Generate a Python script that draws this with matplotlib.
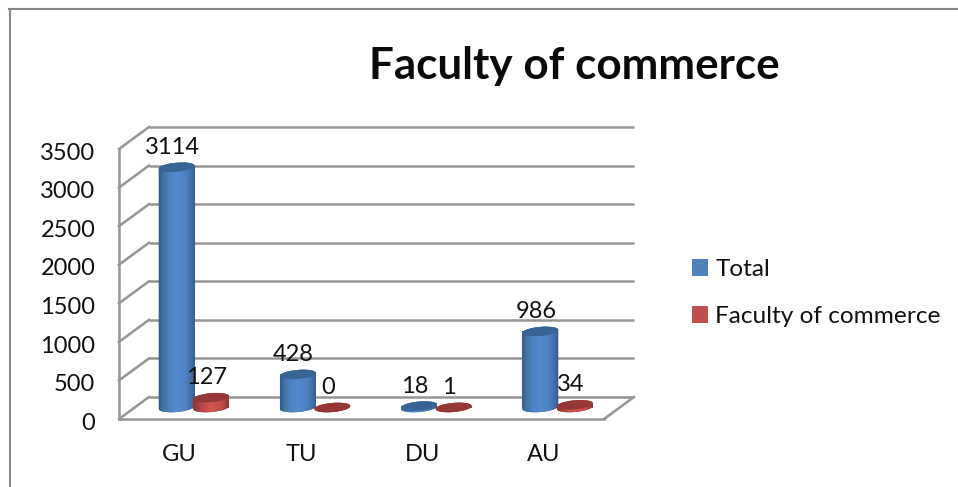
import numpy as np
import matplotlib
matplotlib.use("Agg")
import matplotlib.pyplot as plt
from matplotlib.lines import Line2D
from matplotlib.patches import Polygon, Patch
from matplotlib.colors import LinearSegmentedColormap
from matplotlib.transforms import ScaledTranslation

categories = ["GU", "TU", "DU", "AU"]
total = [3114, 428, 18, 986]
commerce = [127, 0, 1, 34]
series_names = ["Total", "Faculty of commerce"]
y_ticks = [0, 500, 1000, 1500, 2000, 2500, 3000, 3500]
title = "Faculty of commerce"

W, H = 958, 487
plt.rcParams['font.family'] = ['Lato', 'DejaVu Sans']
fig = plt.figure(figsize=(W / 100, H / 100), dpi=100)
L, R, T, B = 119, 604, 149, 419
ax = fig.add_axes([L / W, 1 - B / H, (R - L) / W, (B - T) / H])
ax.set_xlim(0, 4)
ax.set_ylim(0, 3500)
for s in ax.spines.values():
    s.set_visible(False)
ax.patch.set_visible(False)

px_x = 4 / (R - L)
px_y = 3500 / (B - T)
DX, DY = 30 * px_x, 22 * px_y
GRID = "#959595"
lw = 1.8
for v in y_ticks:
    ax.plot([DX, 4 + DX], [v + DY, v + DY], color=GRID, lw=lw, clip_on=False, zorder=1, solid_capstyle='butt')
    ax.plot([0, DX], [v, v + DY], color=GRID, lw=lw, clip_on=False, zorder=1)
ax.plot([0, 0], [0, 3500], color=GRID, lw=lw, clip_on=False, zorder=1)
ax.plot([0, 4], [0, 0], color=GRID, lw=lw, clip_on=False, zorder=1)
ax.plot([4, 4 + DX], [0, DY], color=GRID, lw=lw, clip_on=False, zorder=1)

ax.set_xticks(np.arange(4) + 0.5, categories)
ax.set_yticks(y_ticks)
ax.tick_params(axis='both', length=0, labelsize=17, labelcolor="#111111")
ax.tick_params(axis='x', pad=17.7)
ax.tick_params(axis='y', pad=17)
shift = ScaledTranslation(0, -2.2 / 100, fig.dpi_scale_trans)
for lab in ax.get_yticklabels():
    lab.set_transform(lab.get_transform() + shift)

BW = 36 * px_x
EH = 9
BASE = 11.5 * px_y
OFF = {0: -3 * px_x, 1: 31.5 * px_x}
ANG = np.deg2rad(5)


def ellipse(xc, yc, w=36, h=EH):
    t = np.linspace(0, 2 * np.pi, 81)
    ex, ey = w / 2 * np.cos(t), h / 2 * np.sin(t)
    px = ex * np.cos(ANG) - ey * np.sin(ANG)
    py = ex * np.sin(ANG) + ey * np.cos(ANG)
    return np.column_stack([xc + px * px_x, yc + py * px_y])


cmaps = [
    LinearSegmentedColormap.from_list("b", [(0, "#32598a"), (0.12, "#44739f"), (0.3, "#4e82c4"), (0.5, "#5489cf"),
                                            (0.75, "#4e81c2"), (0.92, "#3f6da6"), (1, "#335c8c")]),
    LinearSegmentedColormap.from_list("r", [(0, "#8f3533"), (0.3, "#bf4b48"), (0.5, "#d4544f"),
                                            (0.8, "#c04c49"), (1, "#8f3533")]),
]
tops = ["#376495", "#953735"]
grad = np.linspace(0, 1, 128).reshape(1, -1)

for si, vals in enumerate([total, commerce]):
    xs = np.arange(4) + 0.5 + OFF[si]
    zz = 5 + si
    bars = ax.bar(xs, vals, BW, bottom=BASE, color=tops[si], zorder=zz, clip_on=False)
    for x, v in zip(xs, vals):
        bottom = ellipse(x, BASE)
        top = ellipse(x, BASE + v)
        outline = np.vstack([bottom[40:81], top[:41]])
        ax.add_patch(Polygon(outline, closed=True, fc=tops[si], ec='none', zorder=zz, clip_on=False))
        im = ax.imshow(grad, cmap=cmaps[si], extent=[x - BW / 2, x + BW / 2, BASE - 8 * px_y, BASE + v + 8 * px_y],
                       aspect='auto', zorder=zz + 0.1)
        im.set_clip_path(Polygon(outline, closed=True, transform=ax.transData, fc='none', ec='none'))
        ax.add_patch(Polygon(top, closed=True, fc=tops[si], ec='none', zorder=zz + 0.2, clip_on=False))
        ax.annotate(str(v), (x, BASE + v), xytext=(-4.5 * 0.72, 20 * 0.72), textcoords='offset points',
                    ha='center', va='center', fontsize=17, color="#111111", zorder=10, annotation_clip=False)
ax.set_xlim(0, 4)
ax.set_ylim(0, 3500)

handles = [Patch(fc="#4f81bd", ec='none'), Patch(fc="#c0504d", ec='none')]
leg = fig.legend(handles, series_names, loc='upper left', bbox_to_anchor=(692 / W, 1 - 259 / H),
                 frameon=False, fontsize=17.6, handlelength=0.65, handleheight=0.72, handletextpad=0.3,
                 labelspacing=1.05, borderpad=0, borderaxespad=0, labelcolor="#111111")

fig.text(574.5 / W, 1 - 66 / H, title, ha='center', va='center', fontsize=31.7, fontweight='bold', color="#0a0a0a")

BORDER = "#868686"
fig.add_artist(Line2D([9.5 / W, 9.5 / W], [0, 1 - 9 / H], color=BORDER, lw=1.5, transform=fig.transFigure))
fig.add_artist(Line2D([9 / W, 1], [1 - 9 / H, 1 - 9 / H], color=BORDER, lw=1.5, transform=fig.transFigure))

fig.savefig("out.png", dpi=100)
